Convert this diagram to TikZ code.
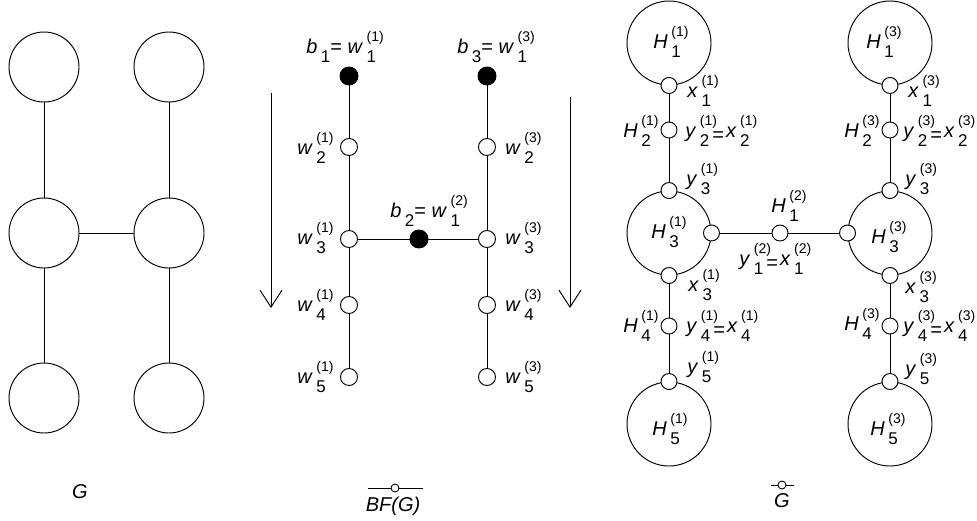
\documentclass[tikz,border=0pt]{standalone}
\usepackage{fontspec}
\setmainfont{Liberation Sans}
\usetikzlibrary{arrows.meta}
\newcommand{\fb}{\fontsize{20}{24}\selectfont}
\newcommand{\fsb}{\fontsize{17}{20}\selectfont}
\newcommand{\fsp}{\fontsize{14}{17}\selectfont}
% base, sub, sup ; width = base + sup
\newcommand{\lbl}[3]{\textit{#1}\kern3.5pt\rlap{\raisebox{-9pt}{\fsb #2}}\raisebox{12pt}{\fsp #3}}
% width = base + sub (used before "=")
\newcommand{\lbr}[3]{\textit{#1}\kern3.5pt\rlap{\raisebox{12pt}{\fsp #3}}\raisebox{-9pt}{\fsb #2}}
\newcommand{\lsub}[2]{\textit{#1}\kern3.5pt\raisebox{-9pt}{\fsb #2}}
\newcommand{\eqlow}{\kern3pt\raisebox{-4pt}{=}\kern2pt}
\begin{document}
\begin{tikzpicture}[x=1pt,y=1pt,line width=0.95pt,
  gc/.style={circle,draw,minimum size=70pt,inner sep=0pt},
  hc/.style={circle,draw,minimum size=84pt,inner sep=0pt},
  wn/.style={circle,draw,fill=white,minimum size=17pt,inner sep=0pt},
  bn/.style={circle,draw,fill=black,minimum size=18pt,inner sep=0pt},
  sn/.style={circle,draw,fill=white,minimum size=16pt,inner sep=0pt},
  mk/.style={circle,draw,fill=white,minimum size=8pt,inner sep=0pt,line width=0.9pt},
  lab/.style={inner sep=0pt,font=\fb},
  darr/.style={-{Straight Barb[length=17pt,width=22pt]}}]
\useasboundingbox (0,0) rectangle (977,-520);

% ---------- G ----------
\node[gc] (g11) at (44,-67) {};
\node[gc] (g12) at (44,-233) {};
\node[gc] (g13) at (44,-398) {};
\node[gc] (g31) at (169,-67) {};
\node[gc] (g32) at (169,-233) {};
\node[gc] (g33) at (169,-398) {};
\draw (g11) -- (g12) -- (g13);
\draw (g31) -- (g32) -- (g33);
\draw (g12) -- (g32);
\node[lab,anchor=base] (lG) at (80,-498) {\textit{G}};

% ---------- BF(G) ----------
\node[bn] (b1) at (349,-76) {};
\node[wn] (w12) at (349,-147) {};
\node[wn] (w13) at (349,-239) {};
\node[wn] (w14) at (349,-305) {};
\node[wn] (w15) at (349,-377) {};
\node[bn] (b3) at (487,-76) {};
\node[wn] (w32) at (487,-147) {};
\node[wn] (w33) at (487,-239) {};
\node[wn] (w34) at (487,-305) {};
\node[wn] (w35) at (487,-377) {};
\node[bn] (b2) at (419,-239) {};
\draw (b1) -- (w12) -- (w13) -- (w14) -- (w15);
\draw (b3) -- (w32) -- (w33) -- (w34) -- (w35);
\draw (w13) -- (b2) -- (w33);

\node[lab,anchor=base] (lb1) at (345,-53) {\lsub{b}{1}= \lbl{w}{1}{(1)}};
\node[lab,anchor=base] (lb3) at (496,-53) {\lsub{b}{3}= \lbl{w}{1}{(3)}};
\node[lab,anchor=base] (lb2) at (429,-217) {\lsub{b}{2}= \lbl{w}{1}{(2)}};
\node[lab,anchor=base east] (lw12) at (334,-154) {\lbl{w}{2}{(1)}};
\node[lab,anchor=base east] (lw13) at (334,-244) {\lbl{w}{3}{(1)}};
\node[lab,anchor=base east] (lw14) at (334,-311) {\lbl{w}{4}{(1)}};
\node[lab,anchor=base east] (lw15) at (334,-383) {\lbl{w}{5}{(1)}};
\node[lab,anchor=base west] (lw32) at (505,-154) {\lbl{w}{2}{(3)}};
\node[lab,anchor=base west] (lw33) at (505,-244) {\lbl{w}{3}{(3)}};
\node[lab,anchor=base west] (lw34) at (505,-311) {\lbl{w}{4}{(3)}};
\node[lab,anchor=base west] (lw35) at (505,-383) {\lbl{w}{5}{(3)}};

\coordinate (a1s) at (271,-93);
\coordinate (a1e) at (271,-308);
\coordinate (a2s) at (570,-97);
\coordinate (a2e) at (570,-308);
\draw[darr] (a1s) -- (a1e);
\draw[darr] (a2s) -- (a2e);

\node[lab,anchor=base] (lbf) at (393,-511) {\textit{BF(G)}};
\node[mk] (m1) at (395,-488) {};
\coordinate (m1a) at (368,-488);
\coordinate (m1b) at (423,-488);
\draw[line width=0.9pt] (m1a) -- (m1) -- (m1b);

% ---------- G tilde ----------
\node[hc] (H11) at (669,-43) {};
\node[hc] (H13) at (669,-233) {};
\node[hc] (H15) at (669,-424) {};
\node[hc] (H31) at (890,-43) {};
\node[hc] (H33) at (890,-233) {};
\node[hc] (H35) at (890,-424) {};

\node[sn] (x11) at (H11.south) {};
\node[sn] (h21) at (669,-130) {};
\node[sn] (y31) at (H13.north) {};
\node[sn] (r13) at (H13.east) {};
\node[sn] (x31) at (H13.south) {};
\node[sn] (h41) at (669,-326) {};
\node[sn] (y51) at (H15.north) {};

\node[sn] (x13) at (H31.south) {};
\node[sn] (h23) at (890,-130) {};
\node[sn] (y33) at (H33.north) {};
\node[sn] (l33) at (H33.west) {};
\node[sn] (x33) at (H33.south) {};
\node[sn] (h43) at (890,-326) {};
\node[sn] (y53) at (H35.north) {};

\node[sn] (h12) at (780,-233) {};

\draw (x11) -- (h21) -- (y31);
\draw (x31) -- (h41) -- (y51);
\draw (x13) -- (h23) -- (y33);
\draw (x33) -- (h43) -- (y53);
\draw (r13) -- (h12) -- (l33);

\node[lab,anchor=base west] (tH11) at (653,-48) {\lbl{H}{1}{(1)}};
\node[lab,anchor=base west] (tH31) at (866,-48) {\lbl{H}{1}{(3)}};
\node[lab,anchor=base west] (tx11) at (687,-97) {\lbl{x}{1}{(1)}};
\node[lab,anchor=base west] (tx13) at (908,-97) {\lbl{x}{1}{(3)}};
\node[lab,anchor=base east] (tH21) at (659,-137) {\lbl{H}{2}{(1)}};
\node[lab,anchor=base east] (tH23) at (880,-137) {\lbl{H}{2}{(3)}};
\node[lab,anchor=base west] (tyx21) at (685,-137) {\lbr{y}{2}{(1)}\eqlow\lbl{x}{2}{(1)}};
\node[lab,anchor=base west] (tyx23) at (903,-137) {\lbr{y}{2}{(3)}\eqlow\lbl{x}{2}{(3)}};
\node[lab,anchor=base west] (ty31) at (686,-185) {\lbl{y}{3}{(1)}};
\node[lab,anchor=base west] (ty33) at (905,-185) {\lbl{y}{3}{(3)}};
\node[lab,anchor=base west] (tH13) at (651,-238) {\lbl{H}{3}{(1)}};
\node[lab,anchor=base west] (tH33) at (871,-243) {\lbl{H}{3}{(3)}};
\node[lab,anchor=base west] (tH12) at (771,-212) {\lbl{H}{1}{(2)}};
\node[lab,anchor=base west] (tyx12) at (739,-265) {\lbr{y}{1}{(2)}\eqlow\lbl{x}{1}{(2)}};
\node[lab,anchor=base west] (tx31) at (688,-291) {\lbl{x}{3}{(1)}};
\node[lab,anchor=base west] (tx33) at (905,-293) {\lbl{x}{3}{(3)}};
\node[lab,anchor=base east] (tH41) at (659,-332) {\lbl{H}{4}{(1)}};
\node[lab,anchor=base east] (tH43) at (880,-330) {\lbl{H}{4}{(3)}};
\node[lab,anchor=base west] (tyx41) at (686,-332) {\lbr{y}{4}{(1)}\eqlow\lbl{x}{4}{(1)}};
\node[lab,anchor=base west] (tyx43) at (903,-332) {\lbr{y}{4}{(3)}\eqlow\lbl{x}{4}{(3)}};
\node[lab,anchor=base west] (ty51) at (687,-373) {\lbl{y}{5}{(1)}};
\node[lab,anchor=base west] (ty53) at (905,-375) {\lbl{y}{5}{(3)}};
\node[lab,anchor=base west] (tH15) at (652,-435) {\lbl{H}{5}{(1)}};
\node[lab,anchor=base west] (tH35) at (870,-435) {\lbl{H}{5}{(3)}};

\node[lab,anchor=base] (lGt) at (782,-507) {\textit{G}};
\node[mk] (m2) at (782,-485) {};
\coordinate (m2a) at (771,-485);
\coordinate (m2b) at (794,-485);
\draw[line width=0.9pt] (m2a) -- (m2) -- (m2b);
\end{tikzpicture}
\end{document}
